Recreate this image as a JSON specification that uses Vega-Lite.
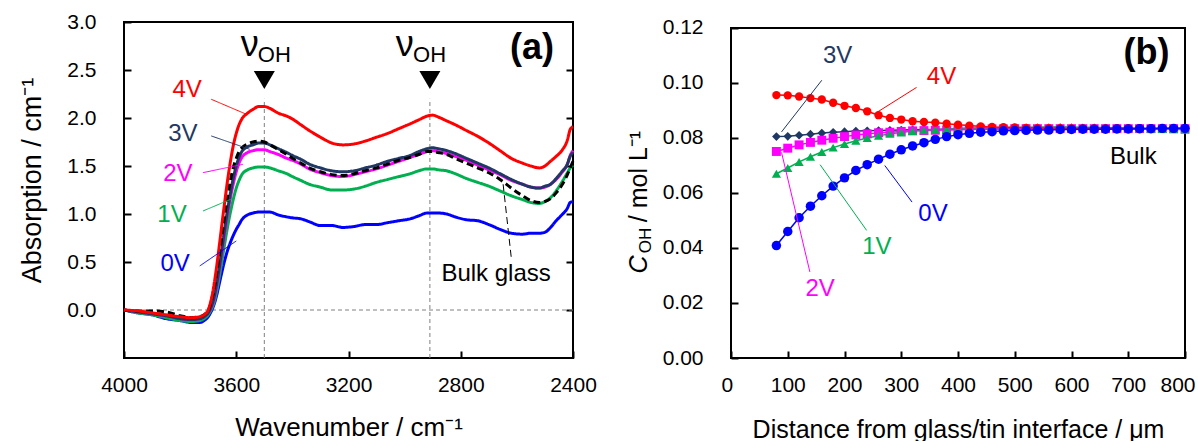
{
  "$schema": "https://vega.github.io/schema/vega-lite/v6.json",
  "padding": {"left": 17, "top": 10, "right": 5, "bottom": 0},
  "spacing": 28,
  "config": {
    "font": "Liberation Sans",
    "view": {"stroke": "black", "strokeWidth": 2},
    "axis": {"grid": false, "domain": false, "tickColor": "black", "tickWidth": 2, "tickSize": -7, "labelColor": "black", "labelFontSize": 21, "titleColor": "black", "titleFontSize": 25, "titleFontWeight": "normal", "labelFlush": false, "labelOverlap": false},
    "axisX": {"labelPadding": 23},
    "axisY": {"labelPadding": 35}
  },
  "datasets": {
    "specA": [
      {"wn":4000,"v0":0.00,"v1":0.00,"v2":0.00,"v3":0.00,"vb":0.00,"v4":0.00},
      {"wn":3950,"v0":-0.03,"v1":-0.03,"v2":-0.02,"v3":-0.02,"vb":-0.01,"v4":-0.01},
      {"wn":3900,"v0":-0.05,"v1":-0.05,"v2":-0.04,"v3":-0.04,"vb":-0.01,"v4":-0.03},
      {"wn":3850,"v0":-0.09,"v1":-0.08,"v2":-0.06,"v3":-0.06,"vb":-0.02,"v4":-0.05},
      {"wn":3800,"v0":-0.11,"v1":-0.11,"v2":-0.09,"v3":-0.09,"vb":-0.06,"v4":-0.07},
      {"wn":3760,"v0":-0.13,"v1":-0.12,"v2":-0.10,"v3":-0.10,"vb":-0.08,"v4":-0.08},
      {"wn":3730,"v0":-0.13,"v1":-0.11,"v2":-0.09,"v3":-0.09,"vb":-0.07,"v4":-0.07},
      {"wn":3710,"v0":-0.10,"v1":-0.08,"v2":-0.06,"v3":-0.06,"vb":-0.04,"v4":-0.04},
      {"wn":3700,"v0":-0.07,"v1":-0.05,"v2":-0.03,"v3":-0.03,"vb":-0.01,"v4":0.00},
      {"wn":3690,"v0":-0.02,"v1":0.00,"v2":0.02,"v3":0.03,"vb":0.08,"v4":0.10},
      {"wn":3680,"v0":0.05,"v1":0.07,"v2":0.10,"v3":0.12,"vb":0.20,"v4":0.25},
      {"wn":3670,"v0":0.15,"v1":0.19,"v2":0.24,"v3":0.27,"vb":0.38,"v4":0.45},
      {"wn":3660,"v0":0.28,"v1":0.35,"v2":0.42,"v3":0.45,"vb":0.58,"v4":0.68},
      {"wn":3650,"v0":0.41,"v1":0.53,"v2":0.62,"v3":0.66,"vb":0.80,"v4":0.92},
      {"wn":3640,"v0":0.53,"v1":0.71,"v2":0.82,"v3":0.87,"vb":1.01,"v4":1.15},
      {"wn":3630,"v0":0.63,"v1":0.88,"v2":1.01,"v3":1.06,"vb":1.20,"v4":1.37},
      {"wn":3620,"v0":0.71,"v1":1.03,"v2":1.18,"v3":1.23,"vb":1.36,"v4":1.56},
      {"wn":3610,"v0":0.78,"v1":1.16,"v2":1.32,"v3":1.38,"vb":1.49,"v4":1.72},
      {"wn":3600,"v0":0.84,"v1":1.27,"v2":1.44,"v3":1.50,"vb":1.58,"v4":1.84},
      {"wn":3590,"v0":0.89,"v1":1.35,"v2":1.53,"v3":1.59,"vb":1.65,"v4":1.93},
      {"wn":3580,"v0":0.94,"v1":1.41,"v2":1.59,"v3":1.65,"vb":1.69,"v4":1.99},
      {"wn":3560,"v0":0.99,"v1":1.46,"v2":1.64,"v3":1.70,"vb":1.73,"v4":2.05},
      {"wn":3540,"v0":1.01,"v1":1.48,"v2":1.66,"v3":1.72,"vb":1.75,"v4":2.09},
      {"wn":3520,"v0":1.02,"v1":1.49,"v2":1.67,"v3":1.74,"vb":1.76,"v4":2.12},
      {"wn":3500,"v0":1.02,"v1":1.49,"v2":1.67,"v3":1.74,"vb":1.75,"v4":2.12},
      {"wn":3480,"v0":1.02,"v1":1.48,"v2":1.65,"v3":1.72,"vb":1.72,"v4":2.10},
      {"wn":3450,"v0":0.99,"v1":1.45,"v2":1.62,"v3":1.68,"vb":1.67,"v4":2.05},
      {"wn":3420,"v0":0.97,"v1":1.42,"v2":1.58,"v3":1.64,"vb":1.62,"v4":2.02},
      {"wn":3400,"v0":0.96,"v1":1.39,"v2":1.56,"v3":1.61,"vb":1.58,"v4":1.99},
      {"wn":3370,"v0":0.95,"v1":1.35,"v2":1.52,"v3":1.57,"vb":1.53,"v4":1.93},
      {"wn":3340,"v0":0.92,"v1":1.31,"v2":1.47,"v3":1.52,"vb":1.48,"v4":1.87},
      {"wn":3300,"v0":0.88,"v1":1.28,"v2":1.43,"v3":1.48,"vb":1.44,"v4":1.80},
      {"wn":3260,"v0":0.88,"v1":1.25,"v2":1.40,"v3":1.45,"vb":1.41,"v4":1.74},
      {"wn":3220,"v0":0.86,"v1":1.25,"v2":1.39,"v3":1.44,"vb":1.40,"v4":1.72},
      {"wn":3180,"v0":0.87,"v1":1.26,"v2":1.41,"v3":1.45,"vb":1.42,"v4":1.73},
      {"wn":3140,"v0":0.89,"v1":1.29,"v2":1.44,"v3":1.48,"vb":1.45,"v4":1.76},
      {"wn":3100,"v0":0.89,"v1":1.33,"v2":1.47,"v3":1.51,"vb":1.48,"v4":1.80},
      {"wn":3060,"v0":0.91,"v1":1.36,"v2":1.51,"v3":1.55,"vb":1.52,"v4":1.84},
      {"wn":3020,"v0":0.93,"v1":1.39,"v2":1.55,"v3":1.58,"vb":1.56,"v4":1.89},
      {"wn":2980,"v0":0.95,"v1":1.42,"v2":1.59,"v3":1.61,"vb":1.59,"v4":1.94},
      {"wn":2950,"v0":0.98,"v1":1.45,"v2":1.62,"v3":1.65,"vb":1.62,"v4":1.98},
      {"wn":2920,"v0":1.01,"v1":1.47,"v2":1.65,"v3":1.68,"vb":1.65,"v4":2.02},
      {"wn":2900,"v0":1.01,"v1":1.47,"v2":1.66,"v3":1.69,"vb":1.65,"v4":2.03},
      {"wn":2880,"v0":1.01,"v1":1.46,"v2":1.65,"v3":1.68,"vb":1.64,"v4":2.01},
      {"wn":2850,"v0":1.00,"v1":1.45,"v2":1.63,"v3":1.66,"vb":1.62,"v4":1.97},
      {"wn":2820,"v0":0.97,"v1":1.42,"v2":1.60,"v3":1.63,"vb":1.58,"v4":1.93},
      {"wn":2780,"v0":0.94,"v1":1.37,"v2":1.56,"v3":1.58,"vb":1.53,"v4":1.87},
      {"wn":2740,"v0":0.93,"v1":1.33,"v2":1.51,"v3":1.53,"vb":1.48,"v4":1.81},
      {"wn":2700,"v0":0.89,"v1":1.29,"v2":1.46,"v3":1.48,"vb":1.43,"v4":1.74},
      {"wn":2660,"v0":0.84,"v1":1.24,"v2":1.41,"v3":1.42,"vb":1.36,"v4":1.66},
      {"wn":2620,"v0":0.80,"v1":1.19,"v2":1.35,"v3":1.36,"vb":1.27,"v4":1.58},
      {"wn":2580,"v0":0.79,"v1":1.15,"v2":1.31,"v3":1.31,"vb":1.19,"v4":1.53},
      {"wn":2550,"v0":0.80,"v1":1.12,"v2":1.28,"v3":1.28,"vb":1.14,"v4":1.50},
      {"wn":2520,"v0":0.80,"v1":1.11,"v2":1.27,"v3":1.27,"vb":1.12,"v4":1.48},
      {"wn":2500,"v0":0.81,"v1":1.13,"v2":1.28,"v3":1.29,"vb":1.13,"v4":1.50},
      {"wn":2480,"v0":0.86,"v1":1.17,"v2":1.31,"v3":1.31,"vb":1.16,"v4":1.55},
      {"wn":2460,"v0":0.93,"v1":1.24,"v2":1.36,"v3":1.37,"vb":1.22,"v4":1.60},
      {"wn":2440,"v0":0.99,"v1":1.33,"v2":1.43,"v3":1.44,"vb":1.30,"v4":1.66},
      {"wn":2420,"v0":1.06,"v1":1.43,"v2":1.52,"v3":1.52,"vb":1.41,"v4":1.77},
      {"wn":2410,"v0":1.12,"v1":1.48,"v2":1.61,"v3":1.60,"vb":1.48,"v4":1.88},
      {"wn":2400,"v0":1.13,"v1":1.51,"v2":1.66,"v3":1.64,"vb":1.55,"v4":1.91}
    ],
    "labA": [
      {"wn":3775,"a":2.29,"s":"v4","t":"4V"},
      {"wn":3790,"a":1.83,"s":"v3","t":"3V"},
      {"wn":3808,"a":1.42,"s":"v2","t":"2V"},
      {"wn":3829,"a":0.99,"s":"v1","t":"1V"},
      {"wn":3818,"a":0.48,"s":"v0","t":"0V"},
      {"wn":2674,"a":0.375,"s":"vb","t":"Bulk glass"}
    ],
    "leadA": [
      {"wn":3689,"a":2.195,"wn2":3564,"a2":2.039,"s":"v4"},
      {"wn":3689,"a":1.813,"wn2":3552,"a2":1.674,"s":"v3"},
      {"wn":3718,"a":1.431,"wn2":3576,"a2":1.518,"s":"v2"},
      {"wn":3718,"a":1.032,"wn2":3606,"a2":1.17,"s":"v1"},
      {"wn":3730,"a":0.459,"wn2":3600,"a2":0.719,"s":"v0"},
      {"wn":2649,"a":1.31,"wn2":2620,"a2":0.546,"s":"vb"}
    ],
    "specB": [
      {"d":80,"v4":0.0956,"v3":0.0805,"v2":0.0751,"v1":0.0670,"v0":0.0409},
      {"d":100,"v4":0.0955,"v3":0.0806,"v2":0.0763,"v1":0.0691,"v0":0.0460},
      {"d":120,"v4":0.0951,"v3":0.0810,"v2":0.0775,"v1":0.0713,"v0":0.0510},
      {"d":140,"v4":0.0945,"v3":0.0814,"v2":0.0784,"v1":0.0732,"v0":0.0552},
      {"d":160,"v4":0.0940,"v3":0.0818,"v2":0.0792,"v1":0.0749,"v0":0.0590},
      {"d":180,"v4":0.0928,"v3":0.0821,"v2":0.0799,"v1":0.0765,"v0":0.0625},
      {"d":200,"v4":0.0917,"v3":0.0823,"v2":0.0805,"v1":0.0778,"v0":0.0655},
      {"d":220,"v4":0.0909,"v3":0.0825,"v2":0.0811,"v1":0.0790,"v0":0.0682},
      {"d":240,"v4":0.0897,"v3":0.0826,"v2":0.0815,"v1":0.0800,"v0":0.0703},
      {"d":260,"v4":0.0883,"v3":0.0827,"v2":0.0819,"v1":0.0808,"v0":0.0723},
      {"d":280,"v4":0.0873,"v3":0.0828,"v2":0.0821,"v1":0.0815,"v0":0.0741},
      {"d":300,"v4":0.0867,"v3":0.0829,"v2":0.0824,"v1":0.0820,"v0":0.0757},
      {"d":320,"v4":0.0861,"v3":0.0830,"v2":0.0826,"v1":0.0825,"v0":0.0771},
      {"d":340,"v4":0.0858,"v3":0.0831,"v2":0.0827,"v1":0.0828,"v0":0.0783},
      {"d":360,"v4":0.0856,"v3":0.0831,"v2":0.0828,"v1":0.0831,"v0":0.0795},
      {"d":380,"v4":0.0852,"v3":0.0832,"v2":0.0829,"v1":0.0833,"v0":0.0805},
      {"d":400,"v4":0.0848,"v3":0.0832,"v2":0.0830,"v1":0.0835,"v0":0.0812},
      {"d":420,"v4":0.0845,"v3":0.0833,"v2":0.0831,"v1":0.0836,"v0":0.0817},
      {"d":440,"v4":0.0842,"v3":0.0833,"v2":0.0832,"v1":0.0837,"v0":0.0821},
      {"d":460,"v4":0.0840,"v3":0.0833,"v2":0.0833,"v1":0.0838,"v0":0.0823},
      {"d":480,"v4":0.0839,"v3":0.0834,"v2":0.0833,"v1":0.0838,"v0":0.0826},
      {"d":500,"v4":0.0838,"v3":0.0834,"v2":0.0834,"v1":0.0839,"v0":0.0827},
      {"d":520,"v4":0.0837,"v3":0.0834,"v2":0.0834,"v1":0.0839,"v0":0.0828},
      {"d":540,"v4":0.0836,"v3":0.0834,"v2":0.0834,"v1":0.0840,"v0":0.0829},
      {"d":560,"v4":0.0836,"v3":0.0834,"v2":0.0834,"v1":0.0840,"v0":0.0829},
      {"d":580,"v4":0.0836,"v3":0.0834,"v2":0.0834,"v1":0.0841,"v0":0.0831},
      {"d":600,"v4":0.0835,"v3":0.0834,"v2":0.0834,"v1":0.0840,"v0":0.0831},
      {"d":620,"v4":0.0835,"v3":0.0834,"v2":0.0834,"v1":0.0839,"v0":0.0832},
      {"d":640,"v4":0.0835,"v3":0.0834,"v2":0.0834,"v1":0.0839,"v0":0.0832},
      {"d":660,"v4":0.0835,"v3":0.0834,"v2":0.0834,"v1":0.0838,"v0":0.0832},
      {"d":680,"v4":0.0835,"v3":0.0834,"v2":0.0834,"v1":0.0837,"v0":0.0833},
      {"d":700,"v4":0.0835,"v3":0.0834,"v2":0.0834,"v1":0.0836,"v0":0.0833},
      {"d":720,"v4":0.0835,"v3":0.0834,"v2":0.0834,"v1":0.0835,"v0":0.0834},
      {"d":740,"v4":0.0835,"v3":0.0834,"v2":0.0834,"v1":0.0834,"v0":0.0834},
      {"d":760,"v4":0.0835,"v3":0.0834,"v2":0.0834,"v1":0.0833,"v0":0.0835},
      {"d":780,"v4":0.0835,"v3":0.0834,"v2":0.0834,"v1":0.0832,"v0":0.0835},
      {"d":800,"v4":0.0835,"v3":0.0834,"v2":0.0834,"v1":0.0830,"v0":0.0835}
    ],
    "labB": [
      {"d":371,"c":0.102,"s":"v4","t":"4V"},
      {"d":188,"c":0.1099,"s":"v3","t":"3V"},
      {"d":356,"c":0.0524,"s":"v0","t":"0V"},
      {"d":257,"c":0.0403,"s":"v1","t":"1V"},
      {"d":157,"c":0.0252,"s":"v2","t":"2V"},
      {"d":709,"c":0.0732,"s":"vb","t":"Bulk"}
    ],
    "leadB": [
      {"d":160,"c":0.101,"d2":89,"c2":0.0822,"s":"v3"},
      {"d":327,"c":0.0984,"d2":257,"c2":0.0893,"s":"v4"},
      {"d":319,"c":0.0567,"d2":271,"c2":0.0700,"s":"v0"},
      {"d":239,"c":0.0464,"d2":157,"c2":0.0703,"s":"v1"},
      {"d":139,"c":0.0313,"d2":89,"c2":0.0748,"s":"v2"}
    ]
  },
  "hconcat": [
    {
      "width": 449,
      "height": 336,
      "resolve": {"axis": {"y": "independent"}},
      "layer": [
        {
          "data": {"values": [{"a": 0}]},
          "mark": {"type": "rule", "color": "#808080", "strokeWidth": 1, "strokeDash": [4, 3]},
          "encoding": {
            "y": {"field": "a", "type": "quantitative", "scale": {"domain": [-0.5, 3], "nice": false, "zero": false},
                  "axis": {"orient": "right", "labels": false, "title": null, "values": [0, 0.5, 1, 1.5, 2, 2.5]}}
          }
        },
        {
          "data": {"values": [{"wn": 3500, "a": -0.5, "a2": 2.2}, {"wn": 2910, "a": -0.5, "a2": 2.2}]},
          "mark": {"type": "rule", "color": "#808080", "strokeWidth": 1, "strokeDash": [4, 3]},
          "encoding": {
            "x": {"field": "wn", "type": "quantitative", "scale": {"domain": [2400, 4000], "reverse": true, "nice": false, "zero": false},
                  "axis": {"values": [4000, 3600, 3200, 2800, 2400], "format": "d", "title": "Wavenumber / cm⁻¹", "titleFontSize": 26, "titleY": 77, "titleBaseline": "alphabetic"}},
            "y": {"field": "a", "type": "quantitative", "scale": {"domain": [-0.5, 3], "nice": false, "zero": false}, "axis": null},
            "y2": {"field": "a2"}
          }
        },
        {
          "data": {"name": "specA"},
          "transform": [{"fold": ["v0", "v1", "v2", "v3", "vb", "v4"], "as": ["s", "a"]}],
          "mark": {"type": "line", "strokeWidth": 3, "interpolate": "monotone"},
          "encoding": {
            "x": {"field": "wn", "type": "quantitative", "scale": {"domain": [2400, 4000], "reverse": true, "nice": false, "zero": false},
                  "axis": {"values": [4000, 3600, 3200, 2800, 2400], "format": "d", "title": "Wavenumber / cm⁻¹", "titleFontSize": 26, "titleY": 77, "titleBaseline": "alphabetic"}},
            "y": {"field": "a", "type": "quantitative", "scale": {"domain": [-0.5, 3], "nice": false, "zero": false},
                  "axis": {"orient": "left", "values": [0, 0.5, 1, 1.5, 2, 2.5, 3], "format": ".1f", "title": "Absorption / cm⁻¹", "titleFontSize": 27, "titleX": -92, "titleY": 158, "titleAlign": "center", "titleBaseline": "middle", "titleAngle": 270}},
            "color": {"field": "s", "type": "nominal", "scale": {"domain": ["v0", "v1", "v2", "v3", "v4", "vb"], "range": ["#0000FF", "#00B050", "#FF00FF", "#1F3864", "#FF0000", "#000000"]}, "legend": null},
            "strokeDash": {"field": "s", "type": "nominal", "scale": {"domain": ["v0", "v1", "v2", "v3", "v4", "vb"], "range": [[1, 0], [1, 0], [1, 0], [1, 0], [1, 0], [7, 4]]}, "legend": null}
          }
        },
        {
          "data": {"name": "leadA"},
          "mark": {"type": "rule", "strokeWidth": 1},
          "encoding": {
            "x": {"field": "wn", "type": "quantitative", "scale": {"domain": [2400, 4000], "reverse": true, "nice": false, "zero": false},
                  "axis": {"values": [4000, 3600, 3200, 2800, 2400], "format": "d", "title": "Wavenumber / cm⁻¹", "titleFontSize": 26, "titleY": 77, "titleBaseline": "alphabetic"}},
            "y": {"field": "a", "type": "quantitative", "scale": {"domain": [-0.5, 3], "nice": false, "zero": false}, "axis": null},
            "x2": {"field": "wn2"},
            "y2": {"field": "a2"},
            "color": {"field": "s", "type": "nominal", "scale": {"domain": ["v0", "v1", "v2", "v3", "v4", "vb"], "range": ["#0000FF", "#00B050", "#FF00FF", "#1F3864", "#FF0000", "#000000"]}, "legend": null},
            "strokeDash": {"field": "s", "type": "nominal", "scale": {"domain": ["v0", "v1", "v2", "v3", "v4", "vb"], "range": [[1, 0], [1, 0], [1, 0], [1, 0], [1, 0], [4, 3]]}, "legend": null}
          }
        },
        {
          "data": {"name": "labA"},
          "mark": {"type": "text", "fontSize": 24, "align": "center", "baseline": "middle"},
          "encoding": {
            "x": {"field": "wn", "type": "quantitative", "scale": {"domain": [2400, 4000], "reverse": true, "nice": false, "zero": false},
                  "axis": {"values": [4000, 3600, 3200, 2800, 2400], "format": "d", "title": "Wavenumber / cm⁻¹", "titleFontSize": 26, "titleY": 77, "titleBaseline": "alphabetic"}},
            "y": {"field": "a", "type": "quantitative", "scale": {"domain": [-0.5, 3], "nice": false, "zero": false}, "axis": null},
            "text": {"field": "t"},
            "color": {"field": "s", "type": "nominal", "scale": {"domain": ["v0", "v1", "v2", "v3", "v4", "vb"], "range": ["#0000FF", "#00B050", "#FF00FF", "#1F3864", "#FF0000", "#000000"]}, "legend": null}
          }
        },
        {
          "data": {"values": [{"wn": 3500, "a": 2.396}, {"wn": 2910, "a": 2.396}]},
          "mark": {"type": "point", "shape": "triangle-down", "filled": true, "color": "black", "opacity": 1, "size": 441},
          "encoding": {
            "x": {"field": "wn", "type": "quantitative", "scale": {"domain": [2400, 4000], "reverse": true, "nice": false, "zero": false},
                  "axis": {"values": [4000, 3600, 3200, 2800, 2400], "format": "d", "title": "Wavenumber / cm⁻¹", "titleFontSize": 26, "titleY": 77, "titleBaseline": "alphabetic"}},
            "y": {"field": "a", "type": "quantitative", "scale": {"domain": [-0.5, 3], "nice": false, "zero": false}, "axis": null}
          }
        },
        {
          "data": {"values": [{"wn": 3552, "a": 2.646, "t": "ν"}, {"wn": 3000, "a": 2.646, "t": "ν"}]},
          "mark": {"type": "text", "fontSize": 36, "align": "center", "baseline": "alphabetic", "color": "black"},
          "encoding": {
            "x": {"field": "wn", "type": "quantitative", "scale": {"domain": [2400, 4000], "reverse": true, "nice": false, "zero": false},
                  "axis": {"values": [4000, 3600, 3200, 2800, 2400], "format": "d", "title": "Wavenumber / cm⁻¹", "titleFontSize": 26, "titleY": 77, "titleBaseline": "alphabetic"}},
            "y": {"field": "a", "type": "quantitative", "scale": {"domain": [-0.5, 3], "nice": false, "zero": false}, "axis": null},
            "text": {"field": "t"}
          }
        },
        {
          "data": {"values": [{"wn": 3523, "a": 2.583, "t": "OH"}, {"wn": 2970, "a": 2.583, "t": "OH"}]},
          "mark": {"type": "text", "fontSize": 22, "align": "left", "baseline": "alphabetic", "color": "black"},
          "encoding": {
            "x": {"field": "wn", "type": "quantitative", "scale": {"domain": [2400, 4000], "reverse": true, "nice": false, "zero": false},
                  "axis": {"values": [4000, 3600, 3200, 2800, 2400], "format": "d", "title": "Wavenumber / cm⁻¹", "titleFontSize": 26, "titleY": 77, "titleBaseline": "alphabetic"}},
            "y": {"field": "a", "type": "quantitative", "scale": {"domain": [-0.5, 3], "nice": false, "zero": false}, "axis": null},
            "text": {"field": "t"}
          }
        },
        {
          "data": {"values": [{"wn": 2546, "a": 2.73, "t": "(a)"}]},
          "mark": {"type": "text", "fontSize": 36, "fontWeight": "bold", "align": "center", "baseline": "middle", "color": "black"},
          "encoding": {
            "x": {"field": "wn", "type": "quantitative", "scale": {"domain": [2400, 4000], "reverse": true, "nice": false, "zero": false},
                  "axis": {"values": [4000, 3600, 3200, 2800, 2400], "format": "d", "title": "Wavenumber / cm⁻¹", "titleFontSize": 26, "titleY": 77, "titleBaseline": "alphabetic"}},
            "y": {"field": "a", "type": "quantitative", "scale": {"domain": [-0.5, 3], "nice": false, "zero": false}, "axis": null},
            "text": {"field": "t"}
          }
        }
      ]
    },
    {
      "width": 454,
      "height": 336,
      "view": {"stroke": null},
      "resolve": {"axis": {"y": "independent"}},
      "layer": [
        {
          "data": {"values": [{"d": 0, "d2": 800, "c": 0, "c2": 0.12}]},
          "mark": {"type": "rect", "filled": false, "color": "black", "strokeWidth": 2},
          "encoding": {
            "x": {"field": "d", "type": "quantitative", "scale": {"domain": [0, 800], "nice": false},
                  "axis": {"values": [0, 100, 200, 300, 400, 500, 600, 700, 800], "format": "d", "labelFlush": true, "labelFlushOffset": 10, "title": "Distance from glass/tin interface / μm", "titleY": 79, "titleBaseline": "alphabetic"}},
            "x2": {"field": "d2"},
            "y": {"field": "c", "type": "quantitative", "scale": {"domain": [0, 0.12218], "nice": false}, "axis": null},
            "y2": {"field": "c2"}
          }
        },
        {
          "data": {"name": "specB"},
          "transform": [{"fold": ["v3", "v2", "v1", "v4", "v0"], "as": ["s", "c"]}],
          "mark": {"type": "line", "strokeWidth": 1.5},
          "encoding": {
            "x": {"field": "d", "type": "quantitative", "scale": {"domain": [0, 800], "nice": false},
                  "axis": {"values": [0, 100, 200, 300, 400, 500, 600, 700, 800], "format": "d", "labelFlush": true, "labelFlushOffset": 10, "title": "Distance from glass/tin interface / μm", "titleY": 79, "titleBaseline": "alphabetic"}},
            "y": {"field": "c", "type": "quantitative", "scale": {"domain": [0, 0.12218], "nice": false},
                  "axis": {"orient": "left", "values": [0, 0.02, 0.04, 0.06, 0.08, 0.1, 0.12], "format": ".2f", "title": "C", "titleFontStyle": "italic", "titleX": -93, "titleY": 242, "titleAlign": "center", "titleBaseline": "middle", "titleAngle": 270}},
            "color": {"field": "s", "type": "nominal", "scale": {"domain": ["v0", "v1", "v2", "v3", "v4", "vb"], "range": ["#0000FF", "#00B050", "#FF00FF", "#1F3864", "#FF0000", "#000000"]}, "legend": null}
          }
        },
        {
          "data": {"name": "specB"},
          "transform": [{"fold": ["v3", "v2", "v1", "v4", "v0"], "as": ["s", "c"]}],
          "mark": {"type": "point", "filled": true, "opacity": 1},
          "encoding": {
            "x": {"field": "d", "type": "quantitative", "scale": {"domain": [0, 800], "nice": false},
                  "axis": {"values": [0, 100, 200, 300, 400, 500, 600, 700, 800], "format": "d", "labelFlush": true, "labelFlushOffset": 10, "title": "Distance from glass/tin interface / μm", "titleY": 79, "titleBaseline": "alphabetic"}},
            "y": {"field": "c", "type": "quantitative", "scale": {"domain": [0, 0.12218], "nice": false},
                  "axis": {"orient": "left", "labels": false, "ticks": false, "title": "OH", "titleFontSize": 17, "titleX": -86, "titleY": 218, "titleAlign": "center", "titleBaseline": "middle", "titleAngle": 270}},
            "color": {"field": "s", "type": "nominal", "scale": {"domain": ["v0", "v1", "v2", "v3", "v4", "vb"], "range": ["#0000FF", "#00B050", "#FF00FF", "#1F3864", "#FF0000", "#000000"]}, "legend": null},
            "shape": {"field": "s", "type": "nominal", "scale": {"domain": ["v0", "v1", "v2", "v3", "v4"], "range": ["circle", "triangle-up", "square", "diamond", "circle"]}, "legend": null},
            "size": {"field": "s", "type": "nominal", "scale": {"domain": ["v0", "v1", "v2", "v3", "v4"], "range": [90, 70, 50, 50, 90]}, "legend": null}
          }
        },
        {
          "data": {"name": "leadB"},
          "mark": {"type": "rule", "strokeWidth": 1},
          "encoding": {
            "x": {"field": "d", "type": "quantitative", "scale": {"domain": [0, 800], "nice": false},
                  "axis": {"values": [0, 100, 200, 300, 400, 500, 600, 700, 800], "format": "d", "labelFlush": true, "labelFlushOffset": 10, "title": "Distance from glass/tin interface / μm", "titleY": 79, "titleBaseline": "alphabetic"}},
            "y": {"field": "c", "type": "quantitative", "scale": {"domain": [0, 0.12218], "nice": false}, "axis": null},
            "x2": {"field": "d2"},
            "y2": {"field": "c2"},
            "color": {"field": "s", "type": "nominal", "scale": {"domain": ["v0", "v1", "v2", "v3", "v4", "vb"], "range": ["#0000FF", "#00B050", "#FF00FF", "#1F3864", "#FF0000", "#000000"]}, "legend": null}
          }
        },
        {
          "data": {"name": "labB"},
          "mark": {"type": "text", "fontSize": 24, "align": "center", "baseline": "middle"},
          "encoding": {
            "x": {"field": "d", "type": "quantitative", "scale": {"domain": [0, 800], "nice": false},
                  "axis": {"values": [0, 100, 200, 300, 400, 500, 600, 700, 800], "format": "d", "labelFlush": true, "labelFlushOffset": 10, "title": "Distance from glass/tin interface / μm", "titleY": 79, "titleBaseline": "alphabetic"}},
            "y": {"field": "c", "type": "quantitative", "scale": {"domain": [0, 0.12218], "nice": false},
                  "axis": {"orient": "left", "labels": false, "ticks": false, "title": "/ mol L⁻¹", "titleX": -93, "titleY": 154, "titleAlign": "center", "titleBaseline": "middle", "titleAngle": 270}},
            "text": {"field": "t"},
            "color": {"field": "s", "type": "nominal", "scale": {"domain": ["v0", "v1", "v2", "v3", "v4", "vb"], "range": ["#0000FF", "#00B050", "#FF00FF", "#1F3864", "#FF0000", "#000000"]}, "legend": null}
          }
        },
        {
          "data": {"values": [{"d": 732, "c": 0.111, "t": "(b)"}]},
          "mark": {"type": "text", "fontSize": 36, "fontWeight": "bold", "align": "center", "baseline": "middle", "color": "black"},
          "encoding": {
            "x": {"field": "d", "type": "quantitative", "scale": {"domain": [0, 800], "nice": false},
                  "axis": {"values": [0, 100, 200, 300, 400, 500, 600, 700, 800], "format": "d", "labelFlush": true, "labelFlushOffset": 10, "title": "Distance from glass/tin interface / μm", "titleY": 79, "titleBaseline": "alphabetic"}},
            "y": {"field": "c", "type": "quantitative", "scale": {"domain": [0, 0.12218], "nice": false}, "axis": null},
            "text": {"field": "t"}
          }
        }
      ]
    }
  ]
}
